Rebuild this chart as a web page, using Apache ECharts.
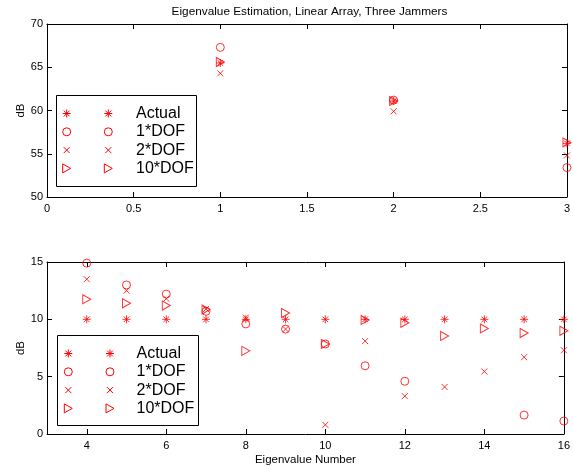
<!DOCTYPE html>
<html><head><meta charset="utf-8">
<script src="https://cdn.jsdelivr.net/npm/echarts@6/dist/echarts.min.js"></script>
<style>html,body{margin:0;padding:0;background:#fff}#c{width:573px;height:467px}</style>
</head><body><div id="c"></div>
<script>
// ---- data ----
const seriesNames = ['Actual', '1*DOF', '2*DOF', '10*DOF'];
const topEig = [1, 2, 3];
const topActual = [65.5, 61.1, 56.2];
const top1DOF = [67.3, 61.2, 53.4];
const top2DOF = [64.3, 59.9, 54.8];
const top10DOF = [65.6, 61.1, 56.3];
const botEig = [4, 5, 6, 7, 8, 9, 10, 11, 12, 13, 14, 15, 16];
const botActual = [10, 10, 10, 10, 10, 10, 10, 10, 10, 10, 10, 10, 10];
const bot1DOF = [14.9, 13.0, 12.2, 10.7, 9.6, 9.15, 7.85, 5.95, 4.6, null, null, 1.65, 1.13];
const bot2DOF = [13.5, 12.5, 11.8, 10.9, 10.15, 9.15, 0.8, 8.1, 3.3, 4.1, 5.45, 6.7, 7.3];
const bot10DOF = [11.75, 11.4, 11.2, 10.85, 7.25, 10.55, 7.85, 9.95, 9.7, 8.55, 9.2, 8.8, 9.0];
const topXTicks = [0, 0.5, 1, 1.5, 2, 2.5, 3];
const topYTicks = [50, 55, 60, 65, 70];
const botXTicks = [4, 6, 8, 10, 12, 14, 16];
const botYTicks = [0, 5, 10, 15];
const titleText = 'Eigenvalue Estimation, Linear Array, Three Jammers';
const xName = 'Eigenvalue Number';
const yName = 'dB';

// ---- styles ----
const FONT = '"Liberation Sans", Arial, Helvetica, sans-serif';
const RED = '#ff0000';
const STAR = 'path://M5,0L5,10M0,5L10,5M1.5,1.5L8.5,8.5M8.5,1.5L1.5,8.5';
const XMARK = 'path://M0,0L10,10M10,0L0,10';
const TRI = 'path://M0,0L10,5L0,10Z';
const markerDefs = [
  {symbol: STAR, size: 8},
  {symbol: 'circle', size: 8},
  {symbol: XMARK, size: 6},
  {symbol: TRI, size: [8, 9]}
];

function pairs(xs, ys) {
  const out = [];
  xs.forEach((x, i) => { if (ys[i] !== null && ys[i] !== undefined) out.push([x, ys[i]]); });
  return out;
}

function xAx(grid, pos, min, max, ticks, showLabel, name) {
  return {
    type: 'value', gridIndex: grid, position: pos, min: min, max: max,
    axisLine: {show: true, onZero: false, lineStyle: {color: '#000', width: 1}},
    axisTick: {show: true, inside: true, length: 5, customValues: ticks, lineStyle: {color: '#000'}},
    axisLabel: {show: showLabel, customValues: ticks, margin: 6, color: '#000', fontSize: 11, fontFamily: FONT},
    splitLine: {show: false},
    name: name || '', nameLocation: 'middle', nameGap: 20, nameMoveOverlap: false,
    nameTextStyle: {color: '#000', fontSize: 11.5, fontFamily: FONT}
  };
}
function yAx(grid, pos, min, max, ticks, showLabel, name) {
  return {
    type: 'value', gridIndex: grid, position: pos, min: min, max: max,
    axisLine: {show: true, onZero: false, lineStyle: {color: '#000', width: 1}},
    axisTick: {show: true, inside: true, length: 5, customValues: ticks, lineStyle: {color: '#000'}},
    axisLabel: {show: showLabel, customValues: ticks, margin: 4, color: '#000', fontSize: 11, fontFamily: FONT},
    splitLine: {show: false},
    name: name || '', nameLocation: 'middle', nameGap: 20, nameMoveOverlap: false,
    nameTextStyle: {color: '#000', fontSize: 11.5, fontFamily: FONT}
  };
}

const topSets = [topActual, top1DOF, top2DOF, top10DOF];
const botSets = [botActual, bot1DOF, bot2DOF, bot10DOF];
const series = [];
seriesNames.forEach((nm, k) => {
  const m = markerDefs[k];
  const base = {
    type: 'scatter', name: nm, symbol: m.symbol, symbolSize: m.size, silent: true,
    itemStyle: {color: 'rgba(0,0,0,0)', borderColor: RED, borderWidth: 1},
    emphasis: {disabled: true}, z: 3 + k
  };
  series.push(Object.assign({}, base, {xAxisIndex: 0, yAxisIndex: 0, data: pairs(topEig, topSets[k])}));
  series.push(Object.assign({}, base, {xAxisIndex: 2, yAxisIndex: 2, data: pairs(botEig, botSets[k])}));
});

// ---- legend boxes (graphic) ----
const ST = {stroke: RED, lineWidth: 1, fill: 'none'};
function seg(x1, y1, x2, y2) {
  return {type: 'line', shape: {x1: x1, y1: y1, x2: x2, y2: y2}, style: ST};
}
function marker(k, cx, cy) {
  if (k === 0) {
    const r = 4, d = 2.9;
    return [seg(cx, cy - r, cx, cy + r), seg(cx - r, cy, cx + r, cy),
            seg(cx - d, cy - d, cx + d, cy + d), seg(cx + d, cy - d, cx - d, cy + d)];
  }
  if (k === 1) return [{type: 'circle', shape: {cx: cx, cy: cy, r: 4}, style: ST}];
  if (k === 2) {
    const r = 3;
    return [seg(cx - r, cy - r, cx + r, cy + r), seg(cx + r, cy - r, cx - r, cy + r)];
  }
  return [{type: 'polygon', shape: {points: [[cx - 4, cy - 4.5], [cx + 4, cy], [cx - 4, cy + 4.5]]}, style: ST}];
}
function legendBox(bx, by, bw, bh, rowY0, rowStep, m1x, m2x, tx) {
  let ch = [{type: 'rect', shape: {x: bx, y: by, width: bw, height: bh},
    style: {fill: '#fff', stroke: '#000', lineWidth: 1}}];
  seriesNames.forEach((nm, k) => {
    const cy = rowY0 + k * rowStep;
    ch = ch.concat(marker(k, m1x, cy), marker(k, m2x, cy));
    ch.push({type: 'text', x: tx, y: cy,
      style: {text: nm, fill: '#000', fontSize: 16, fontFamily: FONT, verticalAlign: 'middle', align: 'left'}});
  });
  return {type: 'group', z: 100, children: ch};
}

const chart = echarts.init(document.getElementById('c'), null, {renderer: 'canvas'});
chart.setOption({
  animation: false,
  backgroundColor: '#fff',
  grid: [
    {left: 47, right: 6, top: 24, height: 173, containLabel: false},
    {left: 47, right: 6, top: 262, height: 172, containLabel: false}
  ],
  xAxis: [
    xAx(0, 'bottom', 0, 3, topXTicks, true),
    xAx(0, 'top', 0, 3, topXTicks, false),
    xAx(1, 'bottom', 3, 16, botXTicks, true, xName),
    xAx(1, 'top', 3, 16, botXTicks, false)
  ],
  yAxis: [
    yAx(0, 'left', 50, 70, topYTicks, true, yName),
    yAx(0, 'right', 50, 70, topYTicks, false),
    yAx(1, 'left', 0, 15, botYTicks, true, yName),
    yAx(1, 'right', 0, 15, botYTicks, false)
  ],
  series: series,
  graphic: [
    {type: 'text', x: 309.5, y: 12, z: 100,
      style: {text: titleText, fill: '#000', fontSize: 11.8, fontFamily: FONT, align: 'center', verticalAlign: 'middle'}},
    legendBox(56.5, 95.5, 140, 91, 113.5, 18.3, 66.7, 108.3, 136),
    legendBox(57.5, 335.5, 141, 90, 353.5, 18.3, 68.3, 110, 136.5)
  ]
});
</script></body></html>
